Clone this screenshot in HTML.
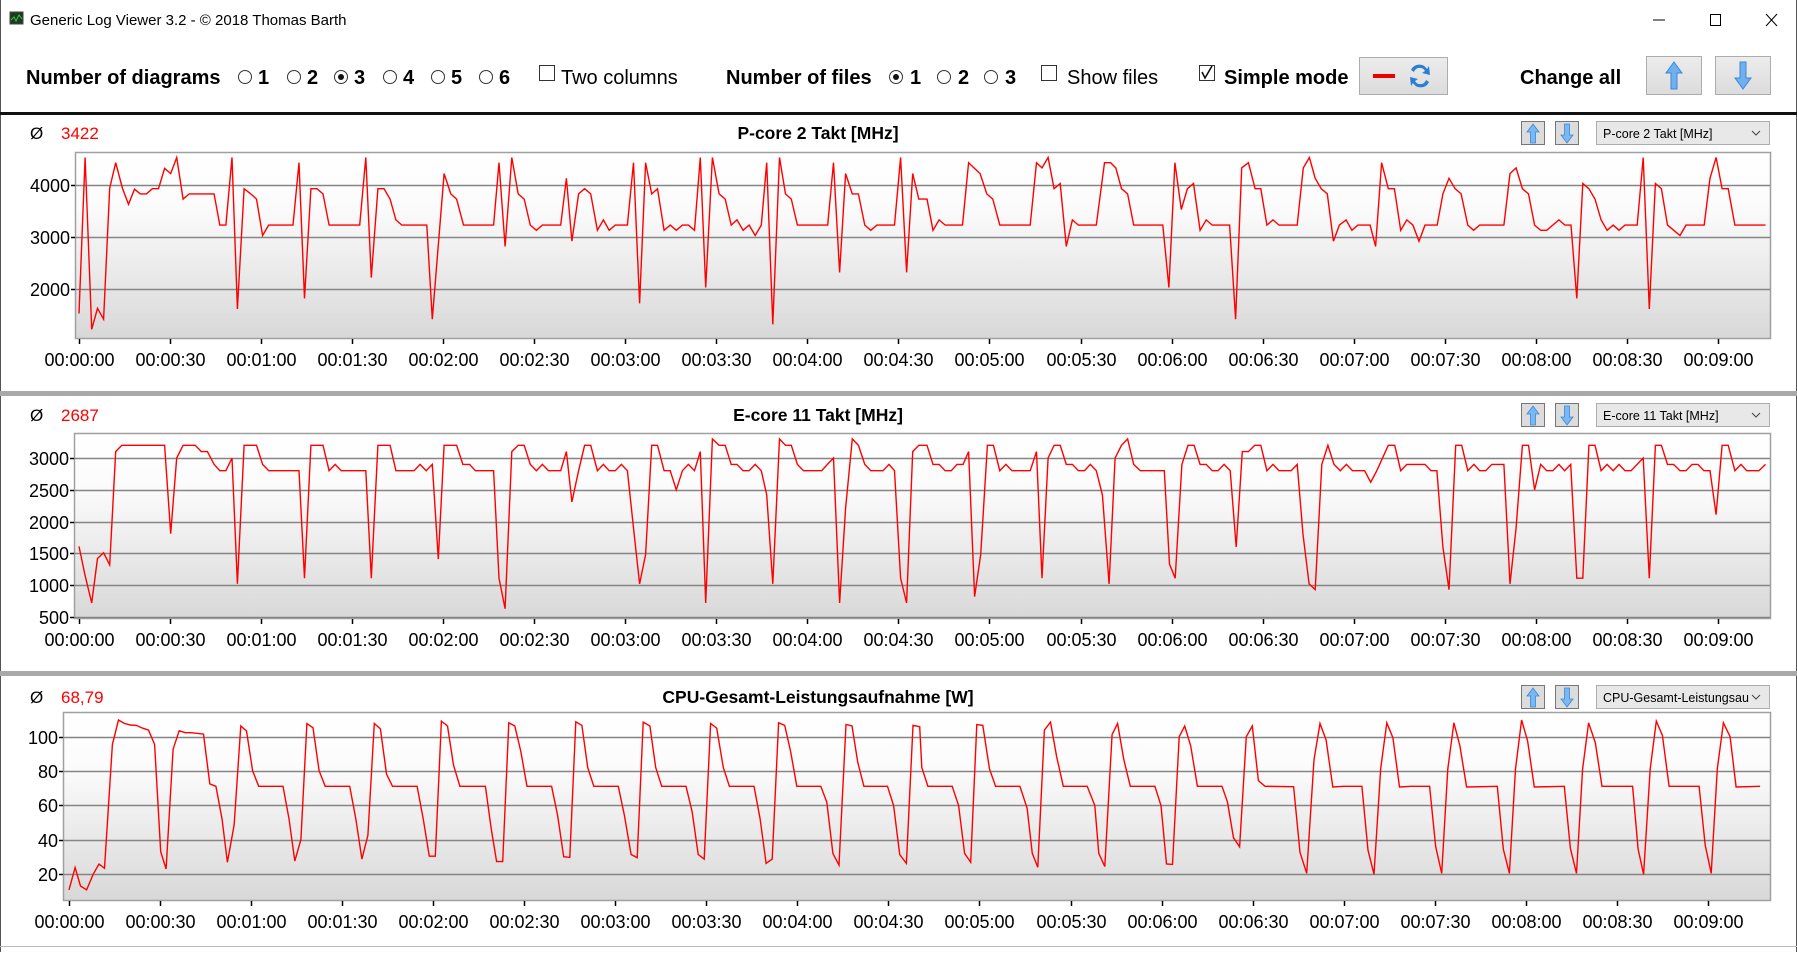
<!DOCTYPE html>
<html><head><meta charset="utf-8"><title>Generic Log Viewer</title>
<style>
html,body{margin:0;padding:0;background:#fff;}
body{width:1797px;height:952px;overflow:hidden;font-family:"Liberation Sans",sans-serif;}
svg text{font-family:"Liberation Sans",sans-serif;}
</style></head>
<body>
<svg id="root" width="1797" height="952" viewBox="0 0 1797 952" xmlns="http://www.w3.org/2000/svg">
<defs>
<linearGradient id="plotbg" x1="0" y1="0" x2="0" y2="1">
<stop offset="0" stop-color="#ffffff"/><stop offset="0.3" stop-color="#fbfbfb"/><stop offset="1" stop-color="#d8d8d8"/>
</linearGradient>
<linearGradient id="btnbg" x1="0" y1="0" x2="0" y2="1">
<stop offset="0" stop-color="#ececec"/><stop offset="1" stop-color="#dcdcdc"/>
</linearGradient>
</defs>
<rect x="0" y="0" width="1797" height="952" fill="#fff"/>
<line x1="0.5" y1="0" x2="0.5" y2="952" stroke="#555" stroke-width="1"/>
<line x1="1796.5" y1="0" x2="1796.5" y2="952" stroke="#555" stroke-width="1"/>
<!-- title bar -->
<g>
<rect x="10" y="12" width="13" height="12" fill="#1e3a24" stroke="#444" stroke-width="1"/>
<polyline points="11,20 14,17 16,21 19,15 22,19" fill="none" stroke="#3c3" stroke-width="1"/>
<text x="30" y="25" font-size="15" fill="#000">Generic Log Viewer 3.2 - © 2018 Thomas Barth</text>
<line x1="1653" y1="20" x2="1665" y2="20" stroke="#000" stroke-width="1"/>
<rect x="1710.5" y="14.5" width="10" height="11" fill="none" stroke="#000"/>
<g><line x1="1766" y1="14" x2="1777" y2="26" stroke="#000"/><line x1="1777" y1="14" x2="1766" y2="26" stroke="#000"/></g>
</g>
<!-- toolbar -->
<g font-size="20" font-weight="bold">
<text x="26" y="84">Number of diagrams</text>
<g><circle cx="245" cy="77" r="6.5" fill="#fff" stroke="#333"/><text x="258" y="84">1</text></g>
<g><circle cx="294" cy="77" r="6.5" fill="#fff" stroke="#333"/><text x="307" y="84">2</text></g>
<g><circle cx="341" cy="77" r="6.5" fill="#fff" stroke="#333"/><circle cx="341" cy="77" r="3" fill="#111"/><text x="354" y="84">3</text></g>
<g><circle cx="390" cy="77" r="6.5" fill="#fff" stroke="#333"/><text x="403" y="84">4</text></g>
<g><circle cx="438" cy="77" r="6.5" fill="#fff" stroke="#333"/><text x="451" y="84">5</text></g>
<g><circle cx="486" cy="77" r="6.5" fill="#fff" stroke="#333"/><text x="499" y="84">6</text></g>
<g><rect x="539.5" y="65.5" width="15" height="15" fill="#fff" stroke="#333"/><text x="561" y="84" font-weight="normal">Two columns</text></g>
<text x="726" y="84">Number of files</text>
<g><circle cx="896" cy="77" r="6.5" fill="#fff" stroke="#333"/><circle cx="896" cy="77" r="3" fill="#111"/><text x="910" y="84">1</text></g>
<g><circle cx="944" cy="77" r="6.5" fill="#fff" stroke="#333"/><text x="958" y="84">2</text></g>
<g><circle cx="991" cy="77" r="6.5" fill="#fff" stroke="#333"/><text x="1005" y="84">3</text></g>
<g><rect x="1041.5" y="65.5" width="15" height="15" fill="#fff" stroke="#333"/><text x="1067" y="84" font-weight="normal">Show files</text></g>
<g><rect x="1199.5" y="65.5" width="15" height="15" fill="#fff" stroke="#333"/><polyline points="1202,72 1205,78 1212,66" fill="none" stroke="#111" stroke-width="1.6"/><text x="1224" y="84">Simple mode</text></g>
<g><rect x="1359.5" y="57.5" width="88" height="37" fill="url(#btnbg)" stroke="#adadad"/><rect x="1373" y="74" width="22" height="4" fill="#e00"/><path d="M1411 70 a9 9 0 0 1 16 -1 l2 -3 l1 9 l-8 -2 l3 -2 a6 6 0 0 0 -11 1z M1429 82 a9 9 0 0 1 -16 1 l-2 3 l-1 -9 l8 2 l-3 2 a6 6 0 0 0 11 -1z" fill="#2a7fd4"/></g>
<text x="1520" y="84">Change all</text>
<g><rect x="1646.5" y="56.5" width="55" height="38" fill="url(#btnbg)" stroke="#adadad"/><path d="M1674 62 l8 11 h-5 v16 h-6 v-16 h-5z" fill="#6fb0f0" stroke="#3d86d6"/></g>
<g><rect x="1715.5" y="56.5" width="55" height="38" fill="url(#btnbg)" stroke="#adadad"/><path d="M1743 89 l8 -11 h-5 v-16 h-6 v16 h-5z" fill="#6fb0f0" stroke="#3d86d6"/></g>
</g>
<rect x="0" y="112" width="1797" height="3" fill="#111"/>
<rect x="0" y="391" width="1797" height="5" fill="#a9a9a9"/>
<rect x="0" y="671" width="1797" height="5" fill="#a9a9a9"/>
<line x1="0" y1="946.5" x2="1797" y2="946.5" stroke="#bbb"/>
<g id="charts"></g>
</svg>
<script>
// ---- chart 1: P-core 2 Takt [MHz]
const c1Times=[0,2,4.2,6.1,8.1,10.1,12.1,14.3,16.3,18.3,20.2,22.2,24.2,26.2,28.2,30.2,32.2,34.3,36.3,44.5,46.4,48.4,50.4,52.2,54.4,56.6,58.5,60.5,62.5,70.5,72.5,74.3,76.4,78.4,80.4,82.4,92.5,94.5,96.3,98.5,100.5,102.5,104.4,106.4,114.6,116.4,120.3,122.5,124.4,126.7,136.6,138.4,140.4,142.6,144.7,146.7,148.7,150.7,152.7,158.7,160.6,162.4,164.6,166.6,168.6,170.8,172.8,174.7,176.7,180.7,182.7,184.7,186.7,188.7,190.6,192.8,194.8,196.8,198.8,200.8,202.8,204.7,206.5,208.7,210.9,212.9,214.9,216.8,218.8,220.8,222.8,224.8,226.6,228.6,230.8,232.8,234.7,236.7,246.7,248.6,250.6,252.6,254.8,256.8,258.9,260.9,262.9,268.7,270.7,272.7,274.7,276.7,279.4,281.4,283.4,285.4,291.1,293.1,296.9,299.1,301.1,303.4,313.4,315.5,317.3,319.3,321.3,323.3,325.3,327.3,329.3,335.2,337.9,339.9,341.6,343.5,345.5,347.5,357.1,359.1,361.1,363.2,365.2,367.2,369.4,371.4,373.4,379.1,381.1,383.1,385.3,387.5,389.4,391.4,393.4,395.4,401.4,403.4,405.4,407.3,409.3,411.3,413.3,415.3,417.5,419.4,421.4,425.4,427.2,429.2,431.4,433.4,435.5,437.5,439.5,441.5,443.5,447.5,449.4,451.4,453.4,455.4,457.6,459.5,461.5,469.5,471.5,473.5,475.6,477.6,479.6,481.6,483.6,487.6,489.6,491.6,493.5,495.5,497.5,499.5,501.5,503.5,505.5,507.4,509.4,513.4,515.4,517.4,519.4,521.4,523.4,527.5,529.5,535.5,537.4,539.4,541.4,543.4,545.6,555.7];
const c1Values=[1530,4530,1225,1630,1420,3940,4430,3940,3630,3920,3830,3830,3930,3930,4320,4220,4530,3730,3830,3830,3230,3230,4530,1615,3930,3830,3730,3030,3230,3230,4430,1820,3930,3930,3830,3230,3230,4530,2220,3930,3930,3730,3330,3230,3230,1420,4220,3830,3730,3230,3230,4430,2820,4530,3830,3730,3230,3130,3230,3230,4130,2920,3830,3930,3830,3130,3330,3130,3230,3230,4430,1725,4430,3830,3930,3130,3230,3130,3230,3230,3130,4530,2030,4530,3830,3730,3230,3330,3130,3230,3030,3230,4430,1320,4530,3830,3730,3230,3230,4430,2320,4220,3830,3830,3230,3130,3230,3230,4530,2320,4220,3730,3730,3130,3330,3230,3230,4430,4220,3830,3730,3230,3230,4430,4330,4530,3930,4030,2820,3330,3230,3230,4430,4430,4330,3930,3830,3230,3230,2030,4430,3530,3930,4030,3130,3330,3230,3230,1420,4330,4430,3930,3930,3230,3330,3230,3230,4330,4530,4130,3930,3830,2920,3230,3330,3130,3230,3230,2820,4430,3930,3930,3130,3330,3230,2920,3230,3230,3830,4130,3930,3830,3230,3130,3230,3230,4220,4330,3930,3830,3230,3130,3130,3330,3230,3230,1820,4030,3930,3730,3330,3130,3230,3130,3230,3230,4530,1615,4030,3930,3230,3030,3230,3230,4130,4530,3930,3930,3230,3230];
const c1YTicks=[2000,3000,4000];

// ---- chart 2: E-core 11 Takt [MHz]
const c2Times=[0,2,4.2,6.1,8.1,10.1,12.1,14.1,28.2,30.2,32.2,34.3,38.3,40.3,42.3,44.5,46.4,48.4,50.4,52.2,54.4,58.5,60.5,62.5,72.5,74.3,76.4,80.4,82.4,84.4,86.4,94.5,96.3,98.5,102.5,104.4,110.4,112.4,114.4,116.4,118.4,120.3,124.4,126.5,128.7,130.6,136.6,138.4,140.4,142.6,144.7,146.7,148.7,150.7,152.7,154.7,158.7,160.6,162.4,164.6,166.6,168.6,170.8,172.8,174.7,176.7,178.7,180.7,182.7,184.7,186.7,188.7,190.6,192.8,194.8,196.8,198.8,200.8,202.8,204.7,206.5,208.7,210.9,212.9,214.9,216.8,218.8,220.8,222.8,224.8,226.6,228.6,230.8,232.8,234.7,236.7,238.7,244.7,246.6,248.6,250.6,252.6,254.8,256.8,258.9,260.9,264.9,266.9,268.7,270.7,272.7,274.7,276.7,279.4,281.4,283.4,285.4,287.4,289.3,291.3,293.1,295.1,297.1,299.3,301.3,303.4,305.4,307.4,313.4,315.5,317.3,319.3,321.3,323.3,325.3,327.3,329.3,331.3,333.2,335.2,337.2,339.4,341.4,343.5,345.5,347.5,349.7,357.6,359.3,361.2,363.4,365.4,367.4,369.4,371.4,373.4,375.3,377.3,379.3,381.3,383.3,385.3,387.4,389.4,391.4,393.4,395.4,399.4,401.4,403.3,405.3,407.3,409.5,411.5,413.5,415.6,417.6,419.6,423.6,425.6,427.6,431.4,433.5,435.5,437.5,443.5,445.5,447.4,449.4,451.4,453.6,455.6,457.6,459.6,461.5,463.5,465.5,469.5,471.5,473.5,475.6,477.6,479.6,481.6,483.6,485.6,487.6,489.5,491.5,493.5,495.5,497.5,499.5,501.5,503.5,505.5,507.4,509.4,511.4,515.4,517.4,519.4,521.4,523.4,525.4,527.5,529.5,531.5,533.4,535.4,537.4,539.4,541.4,543.4,545.6,547.6,549.5,553.5,555.7];
const c2Values=[1610,1150,720,1420,1510,1320,3100,3200,3200,1810,3000,3200,3200,3100,3100,2900,2800,2800,3000,1020,3200,3200,2900,2800,2800,1110,3200,3200,2800,2900,2800,2800,1110,3200,3200,2800,2800,2900,2800,2900,1410,3200,3200,2900,2900,2800,2800,1110,630,3100,3200,3200,2900,2800,2900,2800,2800,3100,2310,2800,3200,3200,2800,2900,2800,2800,2900,2800,1900,1020,1480,3200,3200,2800,2800,2500,2800,2900,2800,3100,720,3300,3200,3200,2900,2900,2800,2800,2900,2800,2420,1020,3300,3200,3200,2900,2800,2800,2900,3000,720,2210,3300,3200,2900,2800,2800,2900,2800,1110,720,3100,3200,3200,2900,2900,2800,2800,2900,2900,3100,820,1480,3200,3200,2800,2900,2800,2800,3100,1110,3000,3200,3200,2900,2900,2800,2800,2900,2800,2420,1020,3000,3200,3300,2900,2800,2800,1330,1110,2900,3200,3200,2900,2900,2800,2800,2900,2800,1600,3100,3100,3200,3200,2800,2900,2800,2800,2900,1800,1020,930,2900,3200,2900,2800,2900,2800,2800,2620,2800,3200,3200,2800,2900,2900,2800,2800,1600,930,3200,3200,2800,2900,2800,2800,2900,2900,1020,1900,3200,3200,2500,2900,2800,2800,2900,2800,2900,1110,1110,3200,3200,2800,2900,2800,2900,2800,2800,3000,1110,3200,3200,2900,2900,2800,2800,2900,2900,2800,2800,2110,3200,3200,2800,2900,2800,2800,2900];
const c2YTicks=[500,1000,1500,2000,2500,3000];

// ---- chart 3: CPU-Gesamt-Leistungsaufnahme [W]
const c3Times=[0,2,3.8,5.8,8,9.9,11.7,14.3,16.3,18.3,20.2,22.2,24.2,26.2,28.2,30.2,32,34.3,36.3,38.3,40.3,44.3,46.4,48.4,50.4,52.2,54.4,56.6,58.5,60.5,62.5,70.5,72.5,74.4,76.4,78.4,80.4,82.4,84.4,92.5,94.5,96.5,98.5,100.6,102.6,104.6,106.6,114.7,116.7,118.7,120.7,122.7,124.7,126.7,128.8,137.2,139.1,140.9,142.9,144.9,146.9,148.9,150.9,159,161,163,165,167,169,170.9,172.9,181,183,185.2,187.2,189.2,191.4,193.3,195.3,203.3,205.3,207.3,209.3,211.4,213.4,215.6,217.6,225.7,227.7,229.7,231.7,233.8,235.8,237.8,239.8,247.7,249.7,251.7,253.7,256,258,259.9,261.9,269.7,271.7,273.7,275.9,278.1,280.3,281,283,291,293.1,295.1,297.1,299.1,301.1,303.3,305.3,313.3,315.7,317.4,319.2,321.4,323.4,325.4,327.6,335.5,338,339.3,341.3,343.7,345.5,347.5,349.7,357.8,359.8,361.6,363.6,365.8,367.6,369.6,371.8,379.9,381.7,383.7,385.7,387.9,389.9,391.9,394.1,403.5,405.6,407.8,410.2,412.2,414.2,416.4,420.1,426,428,430,432.2,434.2,436.2,438.4,442.2,448.3,450.3,452.3,454.3,456.3,458.3,460.5,470.6,472.6,474.6,476.6,478.6,480.6,482.8,492.7,494.7,496.7,498.7,500.7,502.9,505.1,515.2,517,518.8,521,523,525,527.2,537.1,539.1,541.1,543.1,545.1,547.3,549.3,557.2];
const c3Values=[10.7,23.7,13,10.7,20,25.8,23.3,95.7,109.9,107.9,107,106.8,105.2,104,95.7,33,22.9,92.9,103.7,102.5,102.5,101.7,72.6,71.2,52.3,26.8,48.4,106.4,103.5,80.3,71.2,71.2,52.3,27.6,40.1,107.9,105.4,80.3,71.2,71.2,52.3,28.7,42.6,107.9,104.8,78.4,71.2,71.2,52.3,30.4,30.4,109.3,106.4,83.6,71.2,71.2,46.5,27.2,27.2,108.3,106.4,91.3,71.2,71.2,54.2,30.1,29.7,108.9,106.8,82.2,71.2,71.2,54.2,31.4,29.5,108.7,106.4,82.2,71.2,71.2,56.5,31.4,28.7,107.9,105.2,82.2,71.2,71.2,52.3,26.2,28.7,108.3,106.8,91.3,71.2,71.2,61.9,32,25.2,107.3,106.4,85.1,71.2,71.2,60,31.4,26.2,106.8,106,82.2,71.2,71.2,60,32,26.8,107.3,106.8,81.3,71.2,71.2,58.5,32,23.9,104,108.7,88.6,71.2,71.2,60,32,24.3,101.5,107.9,87.1,71.2,71.2,60,25.8,25.6,100.2,106.4,94.8,71.2,71.2,61.9,41.1,35.9,100.2,106.4,74.5,71.2,71,32.6,20.4,86.7,107.9,98.3,70.8,71.2,71.2,33.9,19.8,81.6,108.3,99.6,70.8,71.2,71.2,35.9,20.4,81.3,108.3,94.8,70.8,71.2,34.5,20.4,81.3,109.9,97.7,70.8,71.2,34.9,20.4,81.3,108.3,96.7,71.2,71.2,34.5,19.8,81.3,109.3,101,71.2,71.2,36.8,20.4,81.3,108.3,100.2,70.8,71.2];
const c3YTicks=[20,40,60,80,100];

// ---- shared x axis
const xTickSeconds=[0,30,60,90,120,150,180,210,240,270,300,330,360,390,420,450,480,510,540];
const xTickLabels=["00:00:00","00:00:30","00:01:00","00:01:30","00:02:00","00:02:30","00:03:00","00:03:30","00:04:00","00:04:30","00:05:00","00:05:30","00:06:00","00:06:30","00:07:00","00:07:30","00:08:00","00:08:30","00:09:00"];
const c1Title="P-core 2 Takt [MHz]", c2Title="E-core 11 Takt [MHz]", c3Title="CPU-Gesamt-Leistungsaufnahme [W]";
const c1Avg="3422", c2Avg="2687", c3Avg="68,79";
const c1Select="P-core 2 Takt [MHz]", c2Select="E-core 11 Takt [MHz]", c3Select="CPU-Gesamt-Leistungsau";

const NS="http://www.w3.org/2000/svg";
const host=document.getElementById('charts');
function mk(tag,attrs,parent){const e=document.createElementNS(NS,tag);for(const k in attrs)e.setAttribute(k,attrs[k]);(parent||host).appendChild(e);return e;}

function drawChart(id,L,T,R,B,ymin,ymax,x0,headY,times,values,yticks,title,avg,sel){
  const pxPerSec=91.05/30;
  const xs=t=>x0+t*pxPerSec;
  const ys=v=>B-(v-ymin)/(ymax-ymin)*(B-T);
  const g=mk('g',{});
  
  
  const o=mk('text',{x:30,y:headY+6,'font-size':17,fill:'#000'},g);o.textContent='Ø';
  
  
  const av=mk('text',{x:61,y:headY+6,'font-size':17,fill:'#f00'},g);av.textContent=avg;
  
  
  const tt=mk('text',{x:818,y:headY+6,'font-size':17.5,'font-weight':'bold','text-anchor':'middle'},g);tt.textContent=title;
  
  
  const ub=mk('g',{},g);
  
  
  mk('rect',{x:1521.5,y:headY-11.5,width:23,height:23,fill:'#dcdcdc',stroke:'#777'},ub);
  mk('path',{d:`M1533 ${headY-9} l6 8 h-3.5 v11 h-5 v-11 h-3.5z`,fill:'#7ab8f2',stroke:'#3d86d6','stroke-width':0.8},ub);
  const db=mk('g',{},g);
  
  
  mk('rect',{x:1555.5,y:headY-11.5,width:23,height:23,fill:'#dcdcdc',stroke:'#777'},db);
  mk('path',{d:`M1567 ${headY+10} l6 -8 h-3.5 v-11 h-5 v11 h-3.5z`,fill:'#7ab8f2',stroke:'#3d86d6','stroke-width':0.8},db);
  const dd=mk('g',{},g);
  
  
  mk('rect',{x:1596.5,y:headY-11.5,width:173,height:23,fill:'#e8e8e8',stroke:'#adadad'},dd);
  const dt=mk('text',{x:1603,y:headY+5,'font-size':12.5,fill:'#000'},dd);dt.textContent=sel;
  mk('polyline',{points:`1752,${headY-2} 1756,${headY+2} 1760,${headY-2}`,fill:'none',stroke:'#444','stroke-width':1},dd);
  const pa=mk('rect',{x:L+0.5,y:T+0.5,width:R-L,height:B-T,fill:'url(#plotbg)',stroke:'#a0a0a0','stroke-width':1.5},g);
  
  
  yticks.forEach(v=>{
    const y=Math.round(ys(v))+0.5;
    const gl=mk('line',{x1:L,x2:R,y1:y,y2:y,stroke:'#858585','stroke-width':1.6},g);
    
    
    mk('line',{x1:L-4,x2:L,y1:y,y2:y,stroke:'#000','stroke-width':1.5},g);
    const yl=mk('text',{x:L-5,y:y+6.5,'font-size':18,'text-anchor':'end',fill:'#000'},g);yl.textContent=String(v);
    
    
  });
  xTickSeconds.forEach((s,i)=>{
    const x=Math.round(xs(s))+0.5;
    mk('line',{x1:x,x2:x,y1:B+1,y2:B+6,stroke:'#000','stroke-width':1.5},g);
    const xl=mk('text',{x:x,y:B+28,'font-size':18,'text-anchor':'middle',fill:'#000'},g);xl.textContent=xTickLabels[i];
    
    
  });
  const pts=times.map((t,i)=>xs(t).toFixed(1)+','+ys(values[i]).toFixed(1)).join(' ');
  const ln=mk('polyline',{points:pts,fill:'none',stroke:'#ff0000','stroke-width':1.4,'stroke-linejoin':'miter'},g);
  
  
}
drawChart('p-core-2-clock',75,152,1770,338,1058,4635,79,133,c1Times,c1Values,c1YTicks,c1Title,c1Avg,c1Select);
drawChart('e-core-11-clock',74,433,1770,618,484,3393,79,415,c2Times,c2Values,c2YTicks,c2Title,c2Avg,c2Select);
drawChart('cpu-package-power',63,712,1770,900,4.8,114.6,69,697,c3Times,c3Values,c3YTicks,c3Title,c3Avg,c3Select);
</script>
</body></html>
